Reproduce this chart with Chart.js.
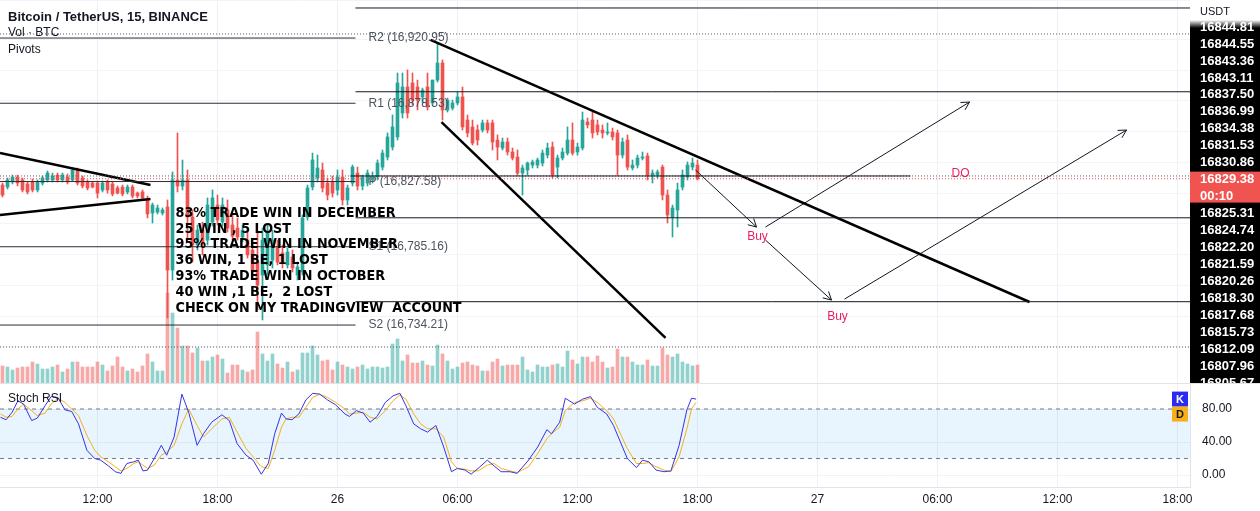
<!DOCTYPE html>
<html>
<head>
<meta charset="utf-8">
<script src="https://cdn.jsdelivr.net/npm/chart.js@4.4.1/dist/chart.umd.min.js"></script>
<style>
  html, body { margin: 0; padding: 0; background: #fff; overflow: hidden; }
  #wrap { position: relative; width: 1260px; height: 511px; }
  #price { position: absolute; left: 0; top: 0; }
  #osc { position: absolute; left: 0; top: 383px; }
</style>
</head>
<body>
<div id="wrap">
  <canvas id="price" width="1260" height="383"></canvas>
  <canvas id="osc" width="1260" height="128"></canvas>
</div>
<script>
// candles, 15 min bars, time in hours from 25 Dec 00:00
const firstBar = 7.25;
const barStep = 0.25;

const openP = [
  16825.3,16824.0,16827.3,16830.5,16828.6,16826.0,16827.3,16822.1,16826.6,16828.6,
  16828.6,16831.8,16828.6,16830.5,16828.6,16835.1,16829.9,16827.3,16826.6,16826.6,
  16822.1,16827.3,16826.0,16823.4,16824.0,16820.8,16824.0,16820.1,16820.8,16815.6,
  16807.1,16807.7,16807.1,16811.0,16770.0,16828.6,16824.7,16828.6,16804.5,16786.3,
  16796.0,16789.5,16801.2,16812.3,16801.2,16809.1,16799.3,16797.3,16791.5,16789.5,
  16783.0,16775.2,16766.8,16773.3,16776.5,16785.0,16781.1,16773.3,16778.5,16766.8,
  16768.7,16804.5,16824.0,16829.9,16835.1,16826.6,16827.3,16822.1,16830.5,16815.6,
  16826.6,16833.1,16824.7,16826.6,16828.6,16830.5,16837.0,16843.5,16850.0,16856.6,
  16872.2,16889.1,16891.7,16889.1,16882.6,16889.1,16878.7,16893.6,16904.7,16874.1,
  16875.4,16878.7,16882.6,16867.6,16863.1,16861.1,16861.1,16865.7,16865.7,16854.6,
  16849.4,16853.3,16846.8,16843.5,16833.1,16835.1,16838.3,16838.3,16839.6,16844.8,
  16850.0,16837.0,16842.9,16846.1,16854.6,16846.8,16849.4,16866.3,16867.6,16864.4,
  16861.1,16859.2,16859.8,16859.2,16844.8,16854.6,16836.4,16838.3,16842.9,16844.2,
  16831.8,16831.8,16837.0,16818.8,16804.5,16809.1,16824.0,16830.5,16837.0,16838.3
];
const highP = [
  16826.6,16829.9,16831.8,16831.8,16829.9,16827.3,16829.2,16828.6,16831.2,16834.4,
  16833.1,16833.1,16833.1,16832.5,16836.4,16836.4,16831.2,16828.6,16827.3,16827.9,
  16827.9,16828.6,16827.3,16824.7,16825.3,16825.3,16825.3,16820.8,16822.1,16818.2,
  16813.6,16812.3,16810.4,16815.6,16833.8,16859.2,16841.6,16835.1,16809.1,16799.3,
  16801.2,16816.9,16822.1,16818.8,16816.9,16815.6,16805.8,16803.9,16799.3,16796.0,
  16786.3,16794.1,16797.3,16799.3,16796.0,16789.5,16786.3,16784.3,16783.0,16775.2,
  16805.8,16825.3,16846.1,16844.8,16839.6,16829.9,16831.2,16835.1,16835.1,16825.3,
  16838.3,16837.0,16831.8,16835.1,16833.8,16841.6,16848.1,16859.2,16870.9,16898.2,
  16898.2,16900.2,16898.2,16893.6,16888.4,16898.2,16893.6,16917.7,16906.7,16881.9,
  16880.6,16885.8,16889.1,16870.9,16867.6,16864.4,16867.6,16867.6,16867.6,16857.9,
  16855.9,16855.9,16849.4,16848.1,16838.3,16840.3,16841.6,16842.9,16848.1,16852.6,
  16853.3,16844.8,16849.4,16863.1,16865.7,16852.6,16872.8,16868.9,16872.8,16867.6,
  16864.4,16865.7,16862.4,16861.1,16855.9,16857.9,16841.6,16844.8,16846.8,16846.1,
  16835.1,16835.1,16838.3,16822.1,16812.3,16826.6,16835.1,16840.3,16842.9,16841.6
];
const lowP = [
  16817.5,16822.7,16826.0,16824.7,16820.8,16819.5,16820.8,16820.8,16825.3,16827.3,
  16827.3,16827.3,16827.3,16826.0,16827.9,16825.3,16823.4,16822.1,16823.4,16816.9,
  16820.8,16820.1,16818.2,16819.5,16818.2,16819.5,16816.9,16816.9,16815.6,16803.9,
  16800.6,16806.5,16805.8,16738.8,16763.5,16820.8,16822.1,16789.5,16775.2,16783.0,
  16779.8,16786.3,16798.6,16799.3,16798.6,16794.7,16789.5,16789.5,16788.2,16777.8,
  16766.8,16744.0,16737.5,16766.8,16771.3,16773.3,16771.3,16771.3,16768.7,16763.5,
  16766.8,16802.5,16822.1,16827.3,16820.8,16815.6,16817.5,16818.8,16812.3,16812.3,
  16824.7,16822.1,16822.1,16824.7,16826.6,16828.6,16835.1,16841.6,16848.1,16854.6,
  16868.9,16868.9,16877.4,16874.1,16878.7,16874.1,16877.4,16892.3,16867.6,16872.8,
  16874.1,16877.4,16861.1,16856.6,16851.3,16851.3,16859.8,16859.2,16848.1,16841.6,
  16848.1,16844.8,16841.6,16831.8,16818.8,16831.8,16836.4,16836.4,16837.7,16842.9,
  16829.9,16829.9,16841.6,16844.8,16844.8,16844.8,16848.1,16862.4,16855.9,16857.9,
  16855.9,16857.9,16854.6,16831.8,16842.9,16835.1,16835.1,16836.4,16841.6,16828.6,
  16826.6,16829.9,16815.6,16800.6,16791.5,16798.0,16822.1,16828.6,16835.1,16828.6
];
const closeP = [
  16818.8,16828.6,16830.5,16826.6,16822.1,16820.8,16822.1,16827.3,16829.9,16833.1,
  16831.2,16828.6,16831.8,16827.3,16835.1,16826.6,16824.7,16823.4,16824.0,16820.1,
  16826.6,16822.1,16819.5,16820.1,16819.5,16824.0,16818.2,16818.2,16816.9,16806.5,
  16812.3,16810.4,16809.1,16770.0,16828.6,16824.7,16828.6,16804.5,16786.3,16796.0,
  16786.3,16812.3,16816.9,16802.5,16812.3,16797.3,16792.1,16791.5,16796.0,16779.8,
  16770.0,16760.3,16789.5,16794.7,16789.5,16775.2,16775.2,16781.7,16771.3,16772.0,
  16803.9,16823.4,16841.6,16836.4,16823.4,16818.8,16820.1,16830.5,16815.6,16823.4,
  16837.0,16824.7,16830.5,16833.1,16831.2,16839.6,16846.1,16856.6,16863.1,16891.7,
  16889.1,16872.2,16880.6,16880.6,16887.1,16876.1,16893.6,16904.7,16874.1,16880.6,
  16878.7,16882.6,16863.1,16859.2,16852.6,16854.6,16865.7,16861.1,16853.3,16850.0,
  16853.3,16846.8,16842.9,16833.1,16836.4,16839.6,16840.3,16841.6,16846.1,16849.4,
  16831.8,16842.9,16846.8,16854.6,16846.1,16850.0,16867.6,16864.4,16859.2,16859.8,
  16859.2,16859.8,16856.6,16844.8,16853.3,16837.0,16838.3,16842.9,16843.5,16831.8,
  16833.1,16833.8,16818.8,16805.8,16810.4,16822.1,16831.8,16838.3,16839.6,16829.38
];
const volumes = [
  680,640,520,600,640,640,840,760,560,560,
  640,720,440,560,840,840,640,640,640,840,
  720,480,680,1040,640,480,560,440,680,1160,
  840,480,480,3600,2800,2200,1480,1480,1200,1400,
  880,880,1040,1120,960,400,720,720,520,440,
  520,2040,1160,880,1160,760,600,840,440,520,
  1200,1200,1480,1120,880,920,520,840,720,640,
  560,640,720,560,640,640,600,640,1560,1760,
  880,1120,800,800,880,720,680,1520,1160,880,
  560,640,800,840,720,680,480,480,840,960,
  680,720,720,720,1040,520,440,720,640,640,
  720,760,640,1280,920,760,1040,1040,840,1080,
  840,600,640,1360,1040,1040,840,720,720,920,
  680,680,1400,1120,1040,1160,840,760,680,720
];

// time axis
const xMin = 7.125;
const xMax = 66.625;
const timeTicks = [12, 18, 24, 30, 36, 42, 48, 54, 60, 66];
const timeLabels = ['12:00', '18:00', '26', '06:00', '12:00', '18:00', '27', '06:00', '12:00', '18:00'];

// price pane range
const priceMin = 16696.5;
const priceMax = 16945.7;

// pivots (previous day) and drawn levels
const pivotNames = ['R2', 'R1', 'P', 'S1', 'S2'];
const pivotLevels = [16920.95, 16878.53, 16827.58, 16785.16, 16734.21];
const pivotEnd = 24.9;
const pivotLabelAt = 25.55;
const rayLevels = [16940.5, 16886.0, 16804.0, 16749.4];
const dottedLevels = [16923.6, 16831.2, 16719.9];
const lastPrice = 16829.38;
const dailyOpen = [24.65, 52.65, 16831.2];

// drawings: [t1, p1, t2, p2]
const trendLines = [
  [28.65, 16919.7, 58.6, 16749.2],
  [29.2, 16866.3, 40.4, 16725.8],
  [7.125, 16846.1, 14.65, 16825.3],
  [7.125, 16805.8, 14.65, 16816.2]
];
const arrows = [
  [41.9, 16835.1, 44.95, 16798.0],
  [45.4, 16798.0, 55.6, 16879.3],
  [45.4, 16789.5, 48.7, 16750.5],
  [49.35, 16751.1, 63.45, 16861.1]
];
const buyLabels = [[45.0, 16791.5], [49.0, 16739.4]];
const doLabel = [55.15, 16832.5];
const noteAt = [15.9, 16807.1];
const noteLines = [
  '83% TRADE WIN IN DECEMBER',
  '25 WIN , 5 LOST',
  '95% TRADE WIN IN NOVEMBER',
  '36 WIN, 1 BE, 1 LOST',
  '93% TRADE WIN IN OCTOBER',
  '40 WIN ,1 BE,  2 LOST',
  'CHECK ON MY TRADINGVIEW  ACCOUNT'
];

// right scale labels as shown
const axisLabels = ['16844.81','16844.55','16843.36','16843.11','16837.50','16836.99','16834.38',
  '16831.53','16830.86','16829.38','00:10','16825.31','16824.74','16822.20','16821.59',
  '16820.26','16818.30','16817.68','16815.73','16812.09','16807.96','16805.67'];

// stoch rsi
const rsiHours = [
  7.15,7.43,7.73,8.02,8.30,8.71,8.99,9.38,9.68,10.02,
  10.37,10.71,11.05,11.47,11.86,12.16,12.55,12.89,13.17,13.47,
  13.81,14.04,14.27,14.50,14.84,15.19,15.46,15.83,16.22,16.56,
  16.98,17.30,17.71,18.22,18.59,18.98,19.43,19.78,20.19,20.54,
  20.86,21.20,21.43,21.73,22.07,22.42,22.76,23.11,23.50,23.91,
  24.37,24.60,24.94,25.29,25.63,25.98,26.39,26.78,27.12,27.42,
  27.81,28.16,28.50,28.92,29.31,29.70,29.99,30.38,30.68,31.03,
  31.49,31.83,32.18,32.63,32.98,33.55,34.01,34.47,34.70,35.11,
  35.39,35.85,36.26,36.65,36.99,37.46,37.80,38.49,38.95,39.25,
  39.57,39.93,40.33,40.67,41.08,41.47,41.70,41.93
];
const kVals = [
  70,67,76,90,86,66,69,84,95,94,
  79,77,62,30,20,18,11,4,2,14,
  16,18,5,6,20,36,24,46,98,76,
  36,50,64,73,66,38,24,18,1,14,
  50,75,68,67,74,91,99,98,91,85,
  74,71,78,75,64,71,88,96,99,84,
  62,56,52,60,34,4,8,6,1,8,
  18,11,4,4,2,18,34,55,50,64,
  93,86,92,95,82,74,60,20,9,18,
  16,6,4,5,36,79,93,92
];
const dVals = [
  74,70,71,80,86,78,72,75,86,93,
  88,80,72,48,30,22,16,10,5,8,
  14,16,12,8,12,24,28,36,62,80,
  60,46,56,68,70,52,32,22,10,8,
  30,58,68,70,70,82,94,98,94,88,
  80,74,75,76,70,68,78,90,97,92,
  74,62,56,56,46,16,8,7,5,5,
  12,14,8,5,3,10,26,44,50,58,
  78,88,90,93,88,78,68,32,14,14,
  15,10,6,4,22,56,80,88
];
const rsiUpper = 80;
const rsiLower = 20;
const rsiTicks = [0, 40, 80];

const upColor = '#26a69a';
const downColor = '#ef5350';
const pink = '#e91e63';
const textColor = '#131722';

const barHours = openP.map((_, i) => firstBar + i * barStep);
const candleColors = openP.map((o, i) => (closeP[i] >= o ? upColor : downColor));
const volColors = openP.map((o, i) => (closeP[i] >= o ? 'rgba(38,166,154,0.5)' : 'rgba(239,83,80,0.5)'));

function seg(t1, p1, t2, p2, color, width, dash, extra) {
  return Object.assign({
    type: 'line',
    data: [{ x: t1, y: p1 }, { x: t2, y: p2 }],
    borderColor: color,
    borderWidth: width,
    borderDash: dash || [],
    pointRadius: 0,
    fill: false,
    order: 0,
    yAxisID: 'y'
  }, extra || {});
}

// no edge padding for first/last tick labels
function noPad(s) {
  s.paddingTop = 0;
  s.paddingBottom = 0;
  s.paddingLeft = 0;
  s.paddingRight = 0;
}

const fmt = (n) => n.toLocaleString('en-US', { minimumFractionDigits: 2, maximumFractionDigits: 2 });

const lineSets = [];
pivotLevels.forEach((l) => lineSets.push(seg(xMin, l, pivotEnd, l, '#2a2e39', 1)));
rayLevels.forEach((l) => lineSets.push(seg(pivotEnd, l, xMax, l, '#131722', 1)));
lineSets.push(seg(dailyOpen[0], dailyOpen[2], dailyOpen[1], dailyOpen[2], '#131722', 1));
dottedLevels.forEach((l) => lineSets.push(seg(xMin, l, xMax, l, '#5d606b', 1, [1, 2])));
lineSets.push(seg(xMin, lastPrice, xMax, lastPrice, downColor, 1, [1, 2]));
trendLines.forEach((t) => lineSets.push(seg(t[0], t[1], t[2], t[3], '#000000', 2.5)));
arrows.forEach((t) => lineSets.push(seg(t[0], t[1], t[2], t[3], '#131722', 1, null, { arrow: true })));

const pricePlugin = {
  id: 'pricePane',
  beforeDraw(chart) {
    const { ctx, chartArea: a, width, height } = chart;
    ctx.save();
    ctx.fillStyle = '#ffffff';
    ctx.fillRect(0, 0, width, height);
    ctx.fillStyle = '#000000';
    ctx.fillRect(a.right, 20, width - a.right, height - 20);
    const yl = chart.scales.yl;
    const top = yl.getPixelForValue(9) - 8;
    const bot = yl.getPixelForValue(10) + 6;
    ctx.fillStyle = '#f05350';
    ctx.fillRect(a.right, top, width - a.right, bot - top);
    ctx.restore();
  },
  afterDatasetsDraw(chart) {
    const { ctx } = chart;
    const xs = chart.scales.x;
    const ys = chart.scales.y;
    ctx.save();

    // arrow heads
    chart.data.datasets.forEach((ds, i) => {
      if (!ds.arrow) return;
      const pts = chart.getDatasetMeta(i).data;
      const p1 = pts[0], p2 = pts[1];
      const ang = Math.atan2(p2.y - p1.y, p2.x - p1.x);
      ctx.strokeStyle = '#131722';
      ctx.lineWidth = 1;
      ctx.beginPath();
      [-0.5, 0.5].forEach((d) => {
        ctx.moveTo(p2.x, p2.y);
        ctx.lineTo(p2.x - 9 * Math.cos(ang + d), p2.y - 9 * Math.sin(ang + d));
      });
      ctx.stroke();
    });

    // pivot labels
    ctx.font = '12px "Liberation Sans"';
    ctx.textBaseline = 'middle';
    ctx.textAlign = 'left';
    ctx.fillStyle = '#4c525e';
    pivotNames.forEach((n, i) => {
      ctx.fillText(n + ' (' + fmt(pivotLevels[i]) + ')', xs.getPixelForValue(pivotLabelAt), ys.getPixelForValue(pivotLevels[i]));
    });

    // DO and Buy labels
    ctx.textAlign = 'center';
    ctx.fillStyle = pink;
    ctx.fillText('DO', xs.getPixelForValue(doLabel[0]), ys.getPixelForValue(doLabel[1]));
    buyLabels.forEach((b) => ctx.fillText('Buy', xs.getPixelForValue(b[0]), ys.getPixelForValue(b[1])));

    // note
    ctx.font = 'bold 14px "DejaVu Sans"';
    ctx.textAlign = 'left';
    ctx.fillStyle = '#000000';
    const sx = 220 / ctx.measureText(noteLines[0]).width;
    ctx.save();
    ctx.translate(xs.getPixelForValue(noteAt[0]), ys.getPixelForValue(noteAt[1]));
    ctx.scale(sx, 1);
    noteLines.forEach((t, k) => ctx.fillText(t, 0, k * 15.9));
    ctx.restore();

    // legend
    ctx.fillStyle = textColor;
    ctx.font = 'bold 13px "Liberation Sans"';
    ctx.fillText('Bitcoin / TetherUS, 15, BINANCE', 8, 17);
    ctx.font = '12px "Liberation Sans"';
    ctx.fillText('Vol \u00b7 BTC', 8, 33);
    ctx.fillText('Pivots', 8, 50);
    ctx.restore();
  },
  afterDraw(chart) {
    const { ctx, chartArea: a, width } = chart;
    ctx.save();
    const g = ctx.createLinearGradient(0, 20, 0, 28);
    g.addColorStop(0, 'rgba(255,255,255,1)');
    g.addColorStop(1, 'rgba(255,255,255,0)');
    ctx.fillStyle = g;
    ctx.fillRect(a.right, 20, width - a.right, 8);
    ctx.fillStyle = '#ffffff';
    ctx.fillRect(a.right, 0, width - a.right, 20);
    ctx.fillStyle = textColor;
    ctx.font = '11px "Liberation Sans"';
    ctx.textBaseline = 'middle';
    ctx.fillText('USDT', a.right + 10, 12);
    ctx.restore();
  }
};

new Chart(document.getElementById('price'), {
  type: 'bar',
  data: {
    datasets: [
      ...lineSets,
      {
        type: 'bar', order: 1, yAxisID: 'y', grouped: false,
        data: barHours.map((h, i) => ({ x: h, y: [openP[i], closeP[i]] })),
        backgroundColor: candleColors, barThickness: 3, minBarLength: 1, borderWidth: 0
      },
      {
        type: 'bar', order: 2, yAxisID: 'y', grouped: false,
        data: barHours.map((h, i) => ({ x: h, y: [lowP[i], highP[i]] })),
        backgroundColor: candleColors, barThickness: 1, borderWidth: 0
      },
      {
        type: 'bar', order: 3, yAxisID: 'yv', grouped: false,
        data: barHours.map((h, i) => ({ x: h, y: volumes[i] })),
        backgroundColor: volColors, barThickness: 3, borderWidth: 0
      }
    ]
  },
  options: {
    responsive: false,
    animation: false,
    devicePixelRatio: 1,
    events: [],
    layout: { padding: 0 },
    plugins: { legend: { display: false }, tooltip: { enabled: false } },
    scales: {
      x: {
        type: 'linear', min: xMin, max: xMax, offset: false,
        afterBuildTicks(s) { s.ticks = timeTicks.map((v) => ({ value: v })); },
        ticks: { display: false },
        grid: { color: '#eef0f5', drawTicks: false, offset: false },
        border: { display: false },
        afterFit(s) { s.height = 0; noPad(s); }
      },
      y: {
        type: 'linear', position: 'left', min: priceMin, max: priceMax, beginAtZero: false,
        ticks: { display: false, stepSize: 20 },
        grid: { color: '#f3f4f7', drawTicks: false },
        border: { display: false },
        afterFit(s) { s.width = 0; noPad(s); }
      },
      yv: { type: 'linear', display: false, min: 0, max: 15320 },
      yl: {
        type: 'linear', position: 'right', min: -1.6, max: 21, reverse: true, beginAtZero: false,
        afterBuildTicks(s) { s.ticks = axisLabels.map((_, i) => ({ value: i })); },
        ticks: {
          autoSkip: false, color: '#ffffff', padding: 10,
          font: { family: 'Liberation Sans', size: 13, weight: 'bold' },
          callback: (v) => axisLabels[v]
        },
        grid: { display: false, drawTicks: false },
        border: { display: false },
        afterFit(s) { s.width = 70; noPad(s); }
      }
    }
  },
  plugins: [pricePlugin]
});

const oscPlugin = {
  id: 'oscPane',
  beforeDraw(chart) {
    const { ctx, width, height } = chart;
    ctx.save();
    ctx.fillStyle = '#ffffff';
    ctx.fillRect(0, 0, width, height);
    ctx.restore();
  },
  afterDatasetsDraw(chart) {
    const { ctx, chartArea: a } = chart;
    const ys = chart.scales.y;
    ctx.save();
    ctx.fillStyle = textColor;
    ctx.font = '12px "Liberation Sans"';
    ctx.textBaseline = 'middle';
    ctx.fillText('Stoch RSI', 8, 16);
    const ky = ys.getPixelForValue(kVals[kVals.length - 1]);
    const tags = [['K', '#2b2bf0', '#ffffff', ky], ['D', '#f7b019', textColor, ky + 15]];
    tags.forEach((t) => {
      ctx.fillStyle = t[1];
      ctx.fillRect(a.right - 18, t[3] - 7.5, 16, 15);
      ctx.fillStyle = t[2];
      ctx.font = 'bold 11px "Liberation Sans"';
      ctx.textAlign = 'center';
      ctx.fillText(t[0], a.right - 10, t[3] + 0.5);
    });
    ctx.restore();
  },
  afterDraw(chart) {
    const { ctx, width } = chart;
    ctx.save();
    ctx.strokeStyle = '#e0e3eb';
    ctx.lineWidth = 1;
    ctx.beginPath();
    ctx.moveTo(0, 0.5);
    ctx.lineTo(width, 0.5);
    ctx.stroke();
    ctx.restore();
  }
};

new Chart(document.getElementById('osc'), {
  type: 'line',
  data: {
    datasets: [
      { data: rsiHours.map((h, i) => ({ x: h, y: kVals[i] })), borderColor: '#3434e6', borderWidth: 1, pointRadius: 0, fill: false, tension: 0 },
      { data: rsiHours.map((h, i) => ({ x: h, y: dVals[i] })), borderColor: '#f3b11b', borderWidth: 1, pointRadius: 0, fill: false, tension: 0 },
      {
        data: [{ x: xMin, y: rsiUpper }, { x: xMax, y: rsiUpper }], borderColor: '#787b86', borderDash: [4, 4],
        borderWidth: 1, pointRadius: 0, fill: '+1', backgroundColor: 'rgba(33,150,243,0.1)'
      },
      {
        data: [{ x: xMin, y: rsiLower }, { x: xMax, y: rsiLower }], borderColor: '#787b86', borderDash: [4, 4],
        borderWidth: 1, pointRadius: 0, fill: false
      }
    ]
  },
  options: {
    responsive: false,
    animation: false,
    devicePixelRatio: 1,
    events: [],
    layout: { padding: 0 },
    plugins: { legend: { display: false }, tooltip: { enabled: false } },
    scales: {
      x: {
        type: 'linear', min: xMin, max: xMax, offset: false,
        afterBuildTicks(s) { s.ticks = timeTicks.map((v) => ({ value: v })); },
        ticks: {
          autoSkip: false, maxRotation: 0, color: textColor, padding: 5,
          font: { family: 'Liberation Sans', size: 12 },
          callback: (v, i) => timeLabels[i]
        },
        grid: { color: '#eef0f5', drawTicks: false },
        border: { color: '#e0e3eb' },
        afterFit(s) { s.height = 24; noPad(s); }
      },
      y: {
        type: 'linear', position: 'right', min: -14.5, max: 111.5,
        afterBuildTicks(s) { s.ticks = rsiTicks.map((v) => ({ value: v })); },
        ticks: {
          autoSkip: false, color: textColor, padding: 12,
          font: { family: 'Liberation Sans', size: 12 },
          callback: (v) => v.toFixed(2)
        },
        grid: { color: '#f0f2f6', drawTicks: false },
        border: { color: '#e0e3eb' },
        afterFit(s) { s.width = 70; noPad(s); }
      }
    }
  },
  plugins: [oscPlugin]
});
</script>
</body>
</html>
